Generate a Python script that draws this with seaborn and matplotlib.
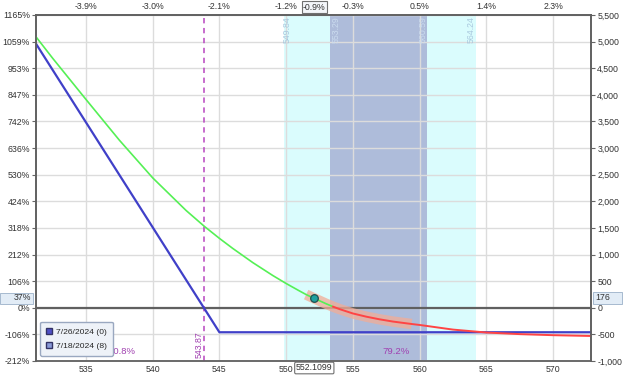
import matplotlib
matplotlib.use("Agg")
import matplotlib.pyplot as plt
import matplotlib.patches as mpatches
from matplotlib.lines import Line2D
import seaborn as sns
import pandas as pd

# ---------------- data ----------------
x_ticks = [535, 540, 545, 550, 555, 560, 565, 570]
top_labels = ["-3.9%", "-3.0%", "-2.1%", "-1.2%", "-0.3%", "0.5%", "1.4%", "2.3%"]
y_ticks = [-1000, -500, 0, 500, 1000, 1500, 2000, 2500, 3000, 3500, 4000, 4500, 5000, 5500]
left_labels = ["-212%", "-106%", "0%", "106%", "212%", "318%", "424%", "530%",
               "636%", "742%", "847%", "953%", "1059%", "1165%"]
right_labels = ["-1,000", "-500", "0", "500", "1,000", "1,500", "2,000", "2,500",
                "3,000", "3,500", "4,000", "4,500", "5,000", "5,500"]

# expiration (7/26/2024) P&L
exp_price = [531.26, 545.0, 572.84]
exp_pnl = [4960, -460, -460]

# T+0 (7/18/2024) P&L curve
t0_price = [531.26, 532.5, 535, 537.5, 540, 542.5, 543.87, 545, 546, 547.5, 549, 550,
            551, 551.5, 552.11, 553, 553.5, 554, 555, 556, 557, 558, 559.4, 560,
            562.5, 565, 567.5, 570, 572.84]
t0_pnl = [5090, 4690, 3915, 3150, 2441, 1829, 1530, 1304, 1115, 849, 606, 456,
          316, 248, 176, 75, 22, -25, -107, -167, -217, -259, -305, -323,
          -410, -465, -495, -515, -530]

band_lo, band_hi = 551.5, 559.4   # 1-SD band on the curve
current_price = 552.1099
current_pnl = 176
breakeven = 543.87
outer_range = (549.84, 564.24)
inner_range = (553.29, 560.59)
prob_left, prob_mid = "20.8%", "79.2%"
legend_labels = ["7/26/2024 (0)", "7/18/2024 (8)"]

# ---------------- style ----------------
sns.set_theme(style="white")
plt.rcParams["font.family"] = ["Liberation Sans", "DejaVu Sans"]
FS = 6.3

W, H = 624, 375
fig = plt.figure(figsize=(W / 100, H / 100), dpi=100)
L, R, T, B = 36, 591, 15, 361
ax = fig.add_axes([L / W, (H - B) / H, (R - L) / W, (B - T) / H])
ax.set_xlim(531.26, 572.84)
ax.set_ylim(-1000, 5500)

# shaded ranges
ax.axvspan(*outer_range, color="#dafcfd", zorder=0, lw=0)
ax.axvspan(*inner_range, color="#aebcda", zorder=0.5, lw=0)

# grid
for xt in x_ticks:
    ax.axvline(xt, color="#dcdcdc", lw=1, zorder=1)
for yt in y_ticks:
    ax.axhline(yt, color="#dcdcdc", lw=1, zorder=1)
ax.axhline(0, color="#606060", lw=1.6, zorder=2)

# lines
df_exp = pd.DataFrame({"price": exp_price, "pnl": exp_pnl})
df_t0 = pd.DataFrame({"price": t0_price, "pnl": t0_pnl})
green = df_t0[df_t0.price <= 553.5]
red = df_t0[df_t0.price >= 553.5]
band = df_t0[(df_t0.price >= band_lo) & (df_t0.price <= band_hi)]

sns.lineplot(data=band, x="price", y="pnl", ax=ax, color="#f2ac96", lw=7.5, alpha=0.75,
             zorder=3, sort=False, solid_capstyle="butt")
sns.lineplot(data=df_exp, x="price", y="pnl", ax=ax, color="#4040c8", lw=1.6, zorder=4, sort=False)
sns.lineplot(data=green, x="price", y="pnl", ax=ax, color="#55f055", lw=1.2, zorder=5, sort=False)
sns.lineplot(data=red, x="price", y="pnl", ax=ax, color="#ff4444", lw=1.4, zorder=5, sort=False)
ax.scatter([current_price], [current_pnl], s=30, color="#20a0a0", edgecolor="#1f4f50",
           linewidth=0.9, zorder=6)

# breakeven
ax.axvline(breakeven, color="#b845c0", lw=1.1, ls=(0, (3.5, 3)), zorder=3)
ax.text(breakeven - 0.38, -695, f"{breakeven:.2f}", rotation=90, ha="center", va="center",
        fontsize=FS, color="#a040b0", zorder=7)

# range labels
for xv, dx, c in [(outer_range[0], 0.25, "#a9c8de"), (inner_range[0], 0.45, "#cbdcef"),
                  (inner_range[1], -0.35, "#cbdcef"), (outer_range[1], -0.35, "#a9c8de")]:
    ax.text(xv + dx, 5220, f"{xv:.2f}", rotation=90, ha="center", va="center",
            fontsize=FS, color=c, zorder=7)

# probabilities
ax.text(537.7, -830, prob_left, ha="center", va="center", fontsize=FS + 0.5, color="#a040b0", zorder=7)
ax.text(558.2, -830, prob_mid, ha="center", va="center", fontsize=FS + 0.5, color="#a040b0", zorder=7)

# axes ticks
ax.set_xlabel("")
ax.set_ylabel("")
ax.set_xticks(x_ticks)
ax.set_xticklabels([str(v) for v in x_ticks], fontsize=FS, color="#333333")
ax.set_yticks(y_ticks)
ax.set_yticklabels(left_labels, fontsize=FS, color="#333333")
ax.tick_params(axis="both", direction="out", length=3, width=0.8, color="#666666", pad=1.5)
ax.tick_params(axis="x", length=2, pad=0.8)

axr = ax.twinx()
axr.set_ylim(ax.get_ylim())
axr.set_yticks(y_ticks)
axr.set_yticklabels(right_labels, fontsize=FS, color="#333333")
axr.tick_params(axis="y", direction="out", length=3, width=0.8, color="#666666", pad=1.5)
axr.grid(False)

axt = ax.secondary_xaxis("top")
axt.set_xticks(x_ticks)
axt.set_xticklabels(top_labels, fontsize=FS, color="#333333")
axt.tick_params(length=0, pad=3)

for a in (ax, axr):
    for s in a.spines.values():
        s.set_color("#606060")
        s.set_linewidth(1.2)
ax.spines["bottom"].set_color("#a0a0a0")
axt.spines["top"].set_visible(False)

# boxed markers
box = dict(boxstyle="round,pad=0.15", fc="white", ec="#707070", lw=0.8)
ax.annotate("-0.9%", xy=(current_price, 1), xycoords=("data", "axes fraction"),
            xytext=(0, 8), textcoords="offset pixels", ha="center", va="center",
            fontsize=FS, color="#333333", bbox=dict(boxstyle="square,pad=0.15", fc="#f4f6fa", ec="#707070", lw=0.8),
            annotation_clip=False, zorder=10)
ax.annotate(f"{current_price:.4f}", xy=(current_price, 0), xycoords=("data", "axes fraction"),
            xytext=(0, -7), textcoords="offset pixels", ha="center", va="center",
            fontsize=FS, color="#333333", bbox=box, annotation_clip=False, zorder=10)

fig.patches.append(mpatches.Rectangle((0, (H - 304) / H), 33 / W, 11 / H, transform=fig.transFigure,
                                      fc="#e2ecf6", ec="#9ab0c8", lw=0.6))
fig.text(31 / W, (H - 298) / H, "37%", ha="right", va="center", fontsize=FS, color="#333333")
fig.patches.append(mpatches.Rectangle((593 / W, (H - 304) / H), 29 / W, 12 / H, transform=fig.transFigure,
                                      fc="#e2ecf6", ec="#9ab0c8", lw=0.6))
fig.text(595 / W, (H - 298) / H, str(current_pnl), ha="left", va="center", fontsize=FS, color="#333333")

# legend
handles = [Line2D([], [], ls="", marker="s", markersize=4.5, markerfacecolor="#5050c8", markeredgecolor="#333366"),
           Line2D([], [], ls="", marker="s", markersize=4.5, markerfacecolor="#8a9ad8", markeredgecolor="#333366")]
leg = ax.legend(handles, legend_labels, loc="lower left", bbox_to_anchor=(0.004, 0.01),
                fontsize=6.1, frameon=True, fancybox=True, handlelength=0.7, handletextpad=0.5,
                borderpad=0.7, labelspacing=0.75, borderaxespad=0.2)
leg.get_frame().set_facecolor("#eef2f8")
leg.get_frame().set_edgecolor("#9aa8c0")
leg.get_frame().set_alpha(1)
leg.set_zorder(20)

fig.savefig("out.png", dpi=100)
